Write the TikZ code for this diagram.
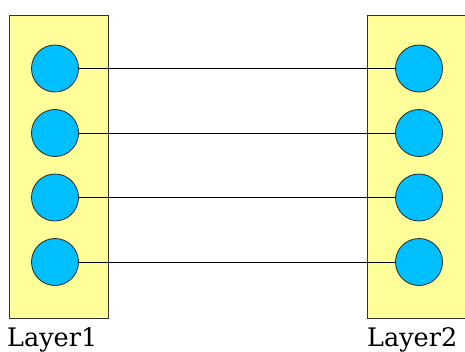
\documentclass[tikz,border=0pt]{standalone}
\usepackage{fontspec}
\setmainfont{DejaVu Serif}
\definecolor{layerfill}{HTML}{FFFF99}
\definecolor{neuronfill}{HTML}{00BFFF}
\begin{document}
\begin{tikzpicture}[x=1pt,y=-1pt,
  layer/.style={draw=black!80,fill=layerfill,line width=0.8pt},
  neuron/.style={circle,draw=black!85,fill=neuronfill,line width=0.8pt,minimum size=47pt,inner sep=0pt},
  conn/.style={draw=black,line width=0.7pt},
  lbl/.style={anchor=base west,inner sep=0pt,font=\fontsize{25.5}{30}\selectfont}]
\useasboundingbox (0,0) rectangle (465,351);
\fill[white] (0,0) rectangle (465,351);
\node[layer,anchor=north west,minimum width=99.5pt,minimum height=303pt,inner sep=0pt] (L1) at (8.5,14.5) {};
\node[layer,anchor=north west,minimum width=110pt,minimum height=303pt,inner sep=0pt] (L2) at (366.5,14.5) {};
\foreach \i/\y in {1/68.5,2/133,3/197.5,4/262}{
  \node[neuron] (a\i) at (55,\y) {};
  \node[neuron] (b\i) at (419,\y) {};
  \draw[conn] (a\i.east) -- (b\i.west);
}
\node[lbl] (t1) at (7,346) {Layer1};
\node[lbl] (t2) at (367,346) {Layer2};
\end{tikzpicture}
\end{document}
